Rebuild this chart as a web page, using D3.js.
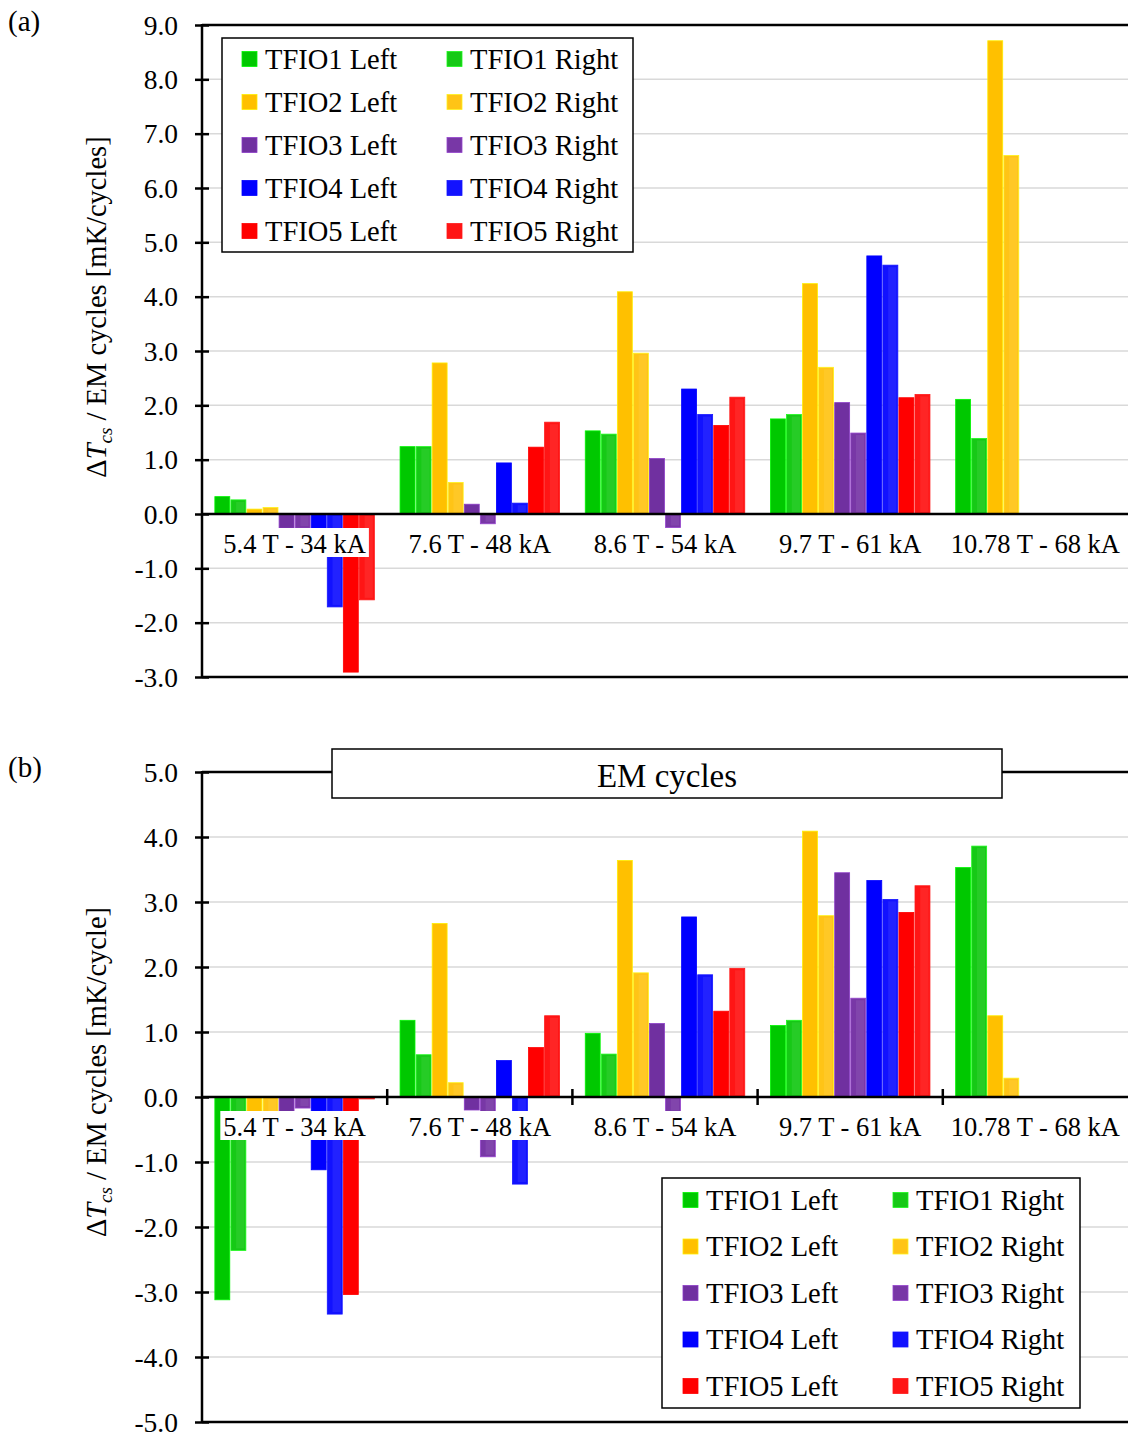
<!DOCTYPE html>
<html><head><meta charset="utf-8">
<script src="https://cdn.jsdelivr.net/npm/d3@7"></script>
<style>body{margin:0;background:#fff}svg{display:block}text{font-family:"Liberation Serif","Times New Roman",serif;fill:#000}</style>
</head><body>
<svg id="chart" width="1128" height="1435"></svg>
<script>
const categories = ["5.4 T - 34 kA","7.6 T - 48 kA","8.6 T - 54 kA","9.7 T - 61 kA","10.78 T - 68 kA"];
const seriesNames = ["TFIO1 Left","TFIO1 Right","TFIO2 Left","TFIO2 Right","TFIO3 Left","TFIO3 Right","TFIO4 Left","TFIO4 Right","TFIO5 Left","TFIO5 Right"];
const seriesColors = ["#00c800","#16c916","#ffc000","#ffc416","#7030a0","#7837a6","#0000ff","#1212ff","#ff0000","#ff1515"];
const ticksA = [-3,-2,-1,0,1,2,3,4,5,6,7,8,9];
const ticksB = [-5,-4,-3,-2,-1,0,1,2,3,4,5];

// Panel (a): ΔTcs per EM cycles [mK/cycles]
const a_TFIO1_Left  = [0.32, 1.24, 1.53, 1.75, 2.11];
const a_TFIO1_Right = [0.26, 1.24, 1.47, 1.83, 1.39];
const a_TFIO2_Left  = [0.09, 2.78, 4.09, 4.24, 8.71];
const a_TFIO2_Right = [0.12, 0.58, 2.96, 2.70, 6.60];
const a_TFIO3_Left  = [-0.26, 0.18, 1.02, 2.05, null];
const a_TFIO3_Right = [-0.26, -0.18, -0.25, 1.49, null];
const a_TFIO4_Left  = [-0.27, 0.94, 2.30, 4.75, null];
const a_TFIO4_Right = [-1.71, 0.20, 1.83, 4.58, null];
const a_TFIO5_Left  = [-2.91, 1.23, 1.63, 2.14, null];
const a_TFIO5_Right = [-1.58, 1.69, 2.15, 2.20, null];

// Panel (b): ΔTcs per EM cycle [mK/cycle]
const b_TFIO1_Left  = [-3.12, 1.18, 0.98, 1.10, 3.53];
const b_TFIO1_Right = [-2.36, 0.65, 0.66, 1.18, 3.86];
const b_TFIO2_Left  = [-0.30, 2.67, 3.64, 4.09, 1.25];
const b_TFIO2_Right = [-0.30, 0.22, 1.91, 2.79, 0.29];
const b_TFIO3_Left  = [-0.23, -0.20, 1.13, 3.45, null];
const b_TFIO3_Right = [-0.17, -0.92, -0.24, 1.52, null];
const b_TFIO4_Left  = [-1.12, 0.56, 2.77, 3.33, null];
const b_TFIO4_Right = [-3.34, -1.34, 1.88, 3.04, null];
const b_TFIO5_Left  = [-3.04, 0.76, 1.32, 2.84, null];
const b_TFIO5_Right = [-0.03, 1.25, 1.98, 3.25, null];

const seriesA = [a_TFIO1_Left,a_TFIO1_Right,a_TFIO2_Left,a_TFIO2_Right,a_TFIO3_Left,a_TFIO3_Right,a_TFIO4_Left,a_TFIO4_Right,a_TFIO5_Left,a_TFIO5_Right];
const seriesB = [b_TFIO1_Left,b_TFIO1_Right,b_TFIO2_Left,b_TFIO2_Right,b_TFIO3_Left,b_TFIO3_Right,b_TFIO4_Left,b_TFIO4_Right,b_TFIO5_Left,b_TFIO5_Right];

const svg = d3.select("#chart");
const X0 = 202, X1 = 1128;

function panel(cfg){
  const g = svg.append("g");
  const y = d3.scaleLinear().domain([cfg.ticks[0], cfg.ticks[cfg.ticks.length-1]]).range([cfg.bottom, cfg.top]);
  const x0 = d3.scaleBand().domain(categories).range([X0, X1]).paddingInner(0).paddingOuter(0);
  const x1 = d3.scaleBand().domain(seriesNames).range([0, x0.bandwidth()]).paddingInner(0.07).paddingOuter(0.8);

  // grid
  g.append("g").selectAll("line").data(cfg.ticks.slice(1,-1)).join("line")
    .attr("x1", X0).attr("x2", X1+5).attr("y1", d=>y(d)).attr("y2", d=>y(d))
    .attr("stroke", "#d9d9d9").attr("stroke-width", 1.5);

  // bars
  const data = [];
  cfg.series.forEach((arr, si) => arr.forEach((v, ci) => { if (v !== null) data.push({s: seriesNames[si], si, c: categories[ci], v}); }));
  const bars = g.append("g").selectAll("g").data(data).join("g");
  bars.append("rect")
    .attr("x", d => x0(d.c) + x1(d.s))
    .attr("width", x1.bandwidth())
    .attr("y", d => y(Math.max(0, d.v)))
    .attr("height", d => Math.abs(y(d.v) - y(0)))
    .attr("fill", d => seriesColors[d.si])
    .attr("stroke", d => d3.color(seriesColors[d.si]).brighter(0.6))
    .attr("stroke-width", 0.8);
  bars.filter(d => d.si % 2 === 1).append("rect")
    .attr("x", d => x0(d.c) + x1(d.s) + x1.bandwidth()*0.35)
    .attr("width", x1.bandwidth()*0.55)
    .attr("y", d => y(Math.max(0, d.v)) + 2)
    .attr("height", d => Math.max(0, Math.abs(y(d.v) - y(0)) - 4))
    .attr("fill", "#fff").attr("opacity", 0.07);

  // category labels with white background
  const labs = g.append("g").selectAll("g").data(categories).join("g");
  labs.append("rect").attr("fill", "#fff");
  labs.append("text")
    .attr("x", d => x0(d) + x0.bandwidth()/2)
    .attr("y", y(0) + 39)
    .attr("text-anchor", "middle")
    .style("font-size", "26.5px")
    .text(d => d);
  labs.each(function(){
    const t = d3.select(this).select("text").node().getBBox();
    d3.select(this).select("rect").attr("x", t.x - 3).attr("y", y(0) + 14).attr("width", t.width + 6).attr("height", 29);
  });

  // axes lines
  g.append("line").attr("x1", X0).attr("x2", X1+5).attr("y1", y(0)).attr("y2", y(0)).attr("stroke", "#000").attr("stroke-width", 2.5);
  g.append("line").attr("x1", X0).attr("x2", X1+5).attr("y1", cfg.top).attr("y2", cfg.top).attr("stroke", "#000").attr("stroke-width", 2.5);
  g.append("line").attr("x1", X0).attr("x2", X1+5).attr("y1", cfg.bottom).attr("y2", cfg.bottom).attr("stroke", "#000").attr("stroke-width", 2.5);
  if (cfg.catTicks) {
    g.append("g").selectAll("line").data(categories.slice(1)).join("line")
      .attr("x1", d => x0(d)).attr("x2", d => x0(d)).attr("y1", y(0)-8).attr("y2", y(0)+8)
      .attr("stroke", "#000").attr("stroke-width", 2.5);
  }

  // y axis
  const ax = g.append("g").attr("transform", `translate(${X0},0)`)
    .call(d3.axisLeft(y).tickValues(cfg.ticks).tickFormat(d => d.toFixed(1)).tickSizeInner(7).tickSizeOuter(0).tickPadding(17));
  ax.select(".domain").remove();
  ax.selectAll(".tick line").attr("x1", 7).attr("x2", -7).attr("stroke", "#000").attr("stroke-width", 2.5);
  ax.selectAll(".tick text").style("font-size", "27.5px").style("font-family", "'Liberation Serif','Times New Roman',serif").attr("dy", "0.33em");
  g.append("line").attr("x1", X0).attr("x2", X0).attr("y1", cfg.top-1).attr("y2", cfg.bottom+1).attr("stroke", "#000").attr("stroke-width", 2.5);

  // y title
  const yt = g.append("text").attr("transform", `translate(106,${cfg.titleY}) rotate(-90)`)
    .attr("text-anchor", "middle").style("font-size", "28.5px");
  yt.append("tspan").text("Δ");
  yt.append("tspan").style("font-style", "italic").text("T");
  yt.append("tspan").style("font-style", "italic").style("font-size", "19px").attr("dy", 6).text("cs");
  yt.append("tspan").attr("dy", -6).text(" / EM cycles " + cfg.unit);

  // panel label
  g.append("text").attr("x", 8).attr("y", cfg.labelY).style("font-size", "29px").text(cfg.label);

  // legend
  const L = cfg.legend;
  g.append("rect").attr("x", L.x).attr("y", L.y).attr("width", L.w).attr("height", L.h)
    .attr("fill", "#fff").attr("stroke", "#000").attr("stroke-width", 1.5);
  seriesNames.forEach((s, i) => {
    const row = Math.floor(i/2), col = i % 2;
    const cy = L.y + L.row0 + row*L.dy;
    const sx = L.x + L.sq[col];
    g.append("rect").attr("x", sx).attr("y", cy-7.5).attr("width", 15).attr("height", 15)
      .attr("fill", seriesColors[i]).attr("stroke", d3.color(seriesColors[i]).brighter(0.6)).attr("stroke-width", 0.8);
    g.append("text").attr("x", sx + L.tx).attr("y", cy + 9.5).style("font-size", "28.5px").text(s);
  });
  return {g, y, x0};
}

panel({top: 25, bottom: 677, ticks: ticksA, series: seriesA, catTicks: false, titleY: 307,
  unit: "[mK/cycles]", label: "(a)", labelY: 31,
  legend: {x: 222, y: 38, w: 411, h: 214, row0: 21, dy: 43, sq: [20, 225], tx: 23}});

panel({top: 772, bottom: 1422, ticks: ticksB, series: seriesB, catTicks: true, titleY: 1072,
  unit: "[mK/cycle]", label: "(b)", labelY: 777,
  legend: {x: 662, y: 1178, w: 418, h: 230, row0: 22, dy: 46.5, sq: [21, 231], tx: 23}});

// title box in panel (b)
svg.append("rect").attr("x", 332).attr("y", 749).attr("width", 670).attr("height", 49)
  .attr("fill", "#fff").attr("stroke", "#000").attr("stroke-width", 1.5);
svg.append("text").attr("x", 667).attr("y", 787).attr("text-anchor", "middle").style("font-size", "33px").text("EM cycles");
</script>
</body></html>
